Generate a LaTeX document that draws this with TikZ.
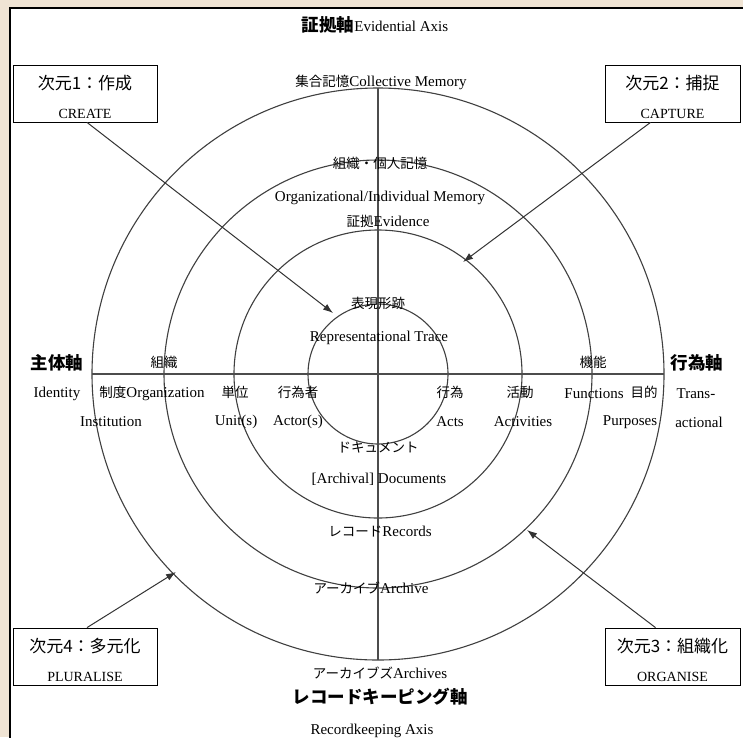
\documentclass[tikz,border=0pt]{standalone}
\usepackage{fontspec}
\setmainfont{Liberation Serif}
\newfontfamily\jp{Noto Sans CJK JP}
\usetikzlibrary{arrows.meta}
\definecolor{framebg}{RGB}{240,228,212}
\newcommand{\jtxt}[1]{{\jp\fontsize{13.5}{15}\selectfont #1}}
\newcommand{\jaxis}[1]{{\jp\bfseries\fontsize{17.5}{19}\selectfont #1}}
\newcommand{\jbox}[1]{{\jp\fontsize{17}{19}\selectfont\rule{0pt}{22pt}#1}}

\begin{document}
\begin{tikzpicture}[x=1pt,y=-1pt,
  ring/.style={draw=black!75,line width=1.1pt},
  axis/.style={draw=black!70,line width=1.4pt},
  lbl/.style={inner sep=0pt,font=\fontsize{15}{17}\selectfont},
  dimbox/.style={draw,fill=white,line width=0.8pt,minimum width=144pt,minimum height=57pt,
    inner sep=0pt,align=center,font=\fontsize{14}{16}\selectfont},
  toring/.style={draw=black!80,line width=1pt,-{Latex[length=10pt,width=7pt]}}]
\useasboundingbox (0,0) rectangle (743,737);
\fill[framebg] (0,0) rectangle (743,737);
\draw[fill=white,line width=2pt] (10,8) rectangle (752,748);
\coordinate (o) at (378,374);
\draw[ring] (o) circle[radius=70pt];
\draw[ring] (o) circle[radius=144pt];
\draw[ring] (o) circle[radius=214pt];
\draw[ring] (o) circle[radius=286pt];
\draw[axis] ([xshift=-286pt]o) -- ([xshift=286pt]o);
\draw[axis] ([yshift=286pt]o) -- ([yshift=-286pt]o);
\node[lbl] (evid) at (375,25) {\jaxis{証拠軸}Evidential Axis};
\node[lbl] (colmem) at (381,82) {\jtxt{集合記憶}Collective Memory};
\node[lbl] (orgmem-jp) at (380,163) {\jtxt{組織・個人記憶}};
\node[lbl] (orgmem) at (380,198) {Organizational/Individual Memory};
\node[lbl] (evidence) at (388,221) {\jtxt{証拠}Evidence};
\node[lbl] (trace-jp) at (378,303) {\jtxt{表現形跡}};
\node[lbl] (trace) at (379,338) {Representational Trace};
\node[lbl] (ident-jp) at (57,363) {\jaxis{主体軸}};
\node[lbl] (org-jp) at (164,362) {\jtxt{組織}};
\node[lbl] (func-jp) at (593,362) {\jtxt{機能}};
\node[lbl] (trans-jp) at (697,363) {\jaxis{行為軸}};
\node[lbl] (ident) at (57,394) {Identity};
\node[lbl] (instorg) at (152,393) {\jtxt{制度}Organization};
\node[lbl] (unit-jp) at (235,392) {\jtxt{単位}};
\node[lbl] (actor-jp) at (298,392) {\jtxt{行為者}};
\node[lbl] (act-jp) at (450,392) {\jtxt{行為}};
\node[lbl] (activ-jp) at (520,392) {\jtxt{活動}};
\node[lbl] (func) at (594,394) {Functions};
\node[lbl] (purp-jp) at (644,392) {\jtxt{目的}};
\node[lbl] (trans) at (696,394) {Trans-};
\node[lbl] (inst) at (111,422) {Institution};
\node[lbl] (unit) at (236,422) {Unit(s)};
\node[lbl] (actor) at (298,422) {Actor(s)};
\node[lbl] (acts) at (450,422) {Acts};
\node[lbl] (activ) at (523,422) {Activities};
\node[lbl] (purp) at (630,422) {Purposes};
\node[lbl] (actional) at (699,422) {actional};
\node[lbl] (doc-jp) at (378,447) {\jtxt{ドキュメント}};
\node[lbl] (doc) at (379,479) {[Archival] Documents};
\node[lbl] (rec) at (380,532) {\jtxt{レコード}Records};
\node[lbl] (arch) at (371,588) {\jtxt{アーカイブ}Archive};
\node[lbl] (archs) at (380,673) {\jtxt{アーカイブズ}Archives};
\node[lbl] (rk-jp) at (380,697) {\jaxis{レコードキーピング軸}};
\node[lbl] (rk) at (372,731) {Recordkeeping Axis};
\node[dimbox] (create) at (85,93.5) {\jbox{次元1：作成}\\[13pt]CREATE};
\node[dimbox,minimum width=135pt] (capture) at (672.5,93.5) {\jbox{次元2：捕捉}\\[13pt]CAPTURE};
\node[dimbox,minimum width=135pt] (organise) at (672.5,656.5) {\jbox{次元3：組織化}\\[13pt]ORGANISE};
\node[dimbox] (pluralise) at (85,656.5) {\jbox{次元4：多元化}\\[13pt]PLURALISE};
\coordinate (tip1) at (333,313);
\coordinate (tip2) at (463,262);
\coordinate (tip3) at (527,530);
\coordinate (tip4) at (176,572);
\draw[toring] ([xshift=2pt]create.south) -- (tip1);
\draw[toring] ([xshift=-22pt]capture.south) -- (tip2);
\draw[toring] ([xshift=-17pt]organise.north) -- (tip3);
\draw[toring] ([xshift=2pt]pluralise.north) -- (tip4);
\end{tikzpicture}
\end{document}
